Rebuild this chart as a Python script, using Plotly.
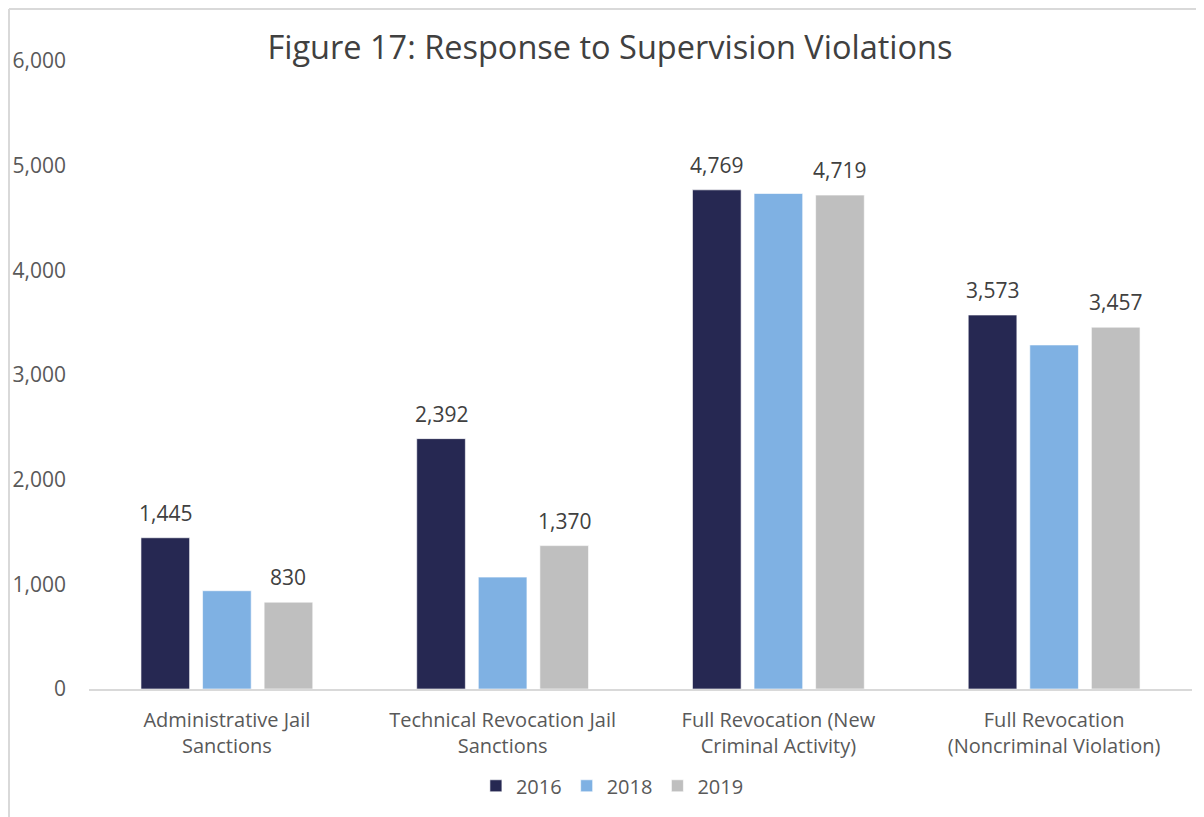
import plotly.graph_objects as go

# -----------------------------
# Data
# -----------------------------
categories = [
    "Administrative Jail<br>Sanctions",
    "Technical Revocation Jail<br>Sanctions",
    "Full Revocation (New<br>Criminal Activity)",
    "Full Revocation<br>(Noncriminal Violation)",
]
years = ["2016", "2018", "2019"]
values_2016 = [1445, 2392, 4769, 3573]
values_2018 = [939, 1069, 4734, 3287]
values_2019 = [830, 1370, 4719, 3457]
show_labels = [True, False, True]

colors = ["#262852", "#7FB1E3", "#BFBFBF"]
font_name = "Open Sans"

W, H = 1204, 817
margin = dict(l=81, r=20, t=53, b=136)
bargap = 0.33
plot_w = W - margin["l"] - margin["r"]
plot_h = H - margin["t"] - margin["b"]
slot = plot_w / len(categories) * (1 - bargap) / len(years)

fig = go.Figure()
for i, (year, vals, col) in enumerate(zip(years, [values_2016, values_2018, values_2019], colors)):
    fig.add_trace(go.Bar(
        name=year,
        x=categories,
        y=vals,
        marker=dict(color=col, line=dict(color="rgba(255,255,255,0.6)", width=1)),
    ))
    if show_labels[i]:
        for c, v in zip(categories, vals):
            fig.add_annotation(
                x=c, y=v, xref="x", yref="y",
                text=f"{v:,}", showarrow=False,
                xshift=(i - 1) * slot, yshift=9,
                yanchor="bottom",
                font=dict(size=21, color="#404040", family=font_name),
            )

# chart border (left and top only visible)
bx = (1 - margin["l"]) / plot_w
by = 1 + (margin["t"] - 1) / plot_h
fig.add_shape(type="line", xref="paper", yref="paper",
              x0=bx, x1=bx, y0=by, y1=-0.3,
              line=dict(color="#D9D9D9", width=2))
fig.add_shape(type="line", xref="paper", yref="paper",
              x0=bx, x1=1.05, y0=by, y1=by,
              line=dict(color="#D9D9D9", width=2))

fig.update_layout(
    width=W,
    height=H,
    margin=dict(**margin, autoexpand=False),
    paper_bgcolor="white",
    plot_bgcolor="white",
    font=dict(family=font_name, color="#595959", size=20),
    title=dict(
        text="Figure 17: Response to Supervision Violations",
        x=0.5, xanchor="center",
        y=0.951, yanchor="middle",
        font=dict(size=32.5, color="#404040", family=font_name),
    ),
    barmode="group",
    bargap=bargap,
    bargroupgap=0.21,
    showlegend=True,
    legend=dict(
        orientation="h",
        xref="container", yref="container",
        x=0.502, xanchor="center",
        y=0.048, yanchor="middle",
        font=dict(size=20, color="#595959"),
        itemwidth=30,
        traceorder="normal",
    ),
    yaxis=dict(
        range=[0, 6000],
        tickvals=[0, 1000, 2000, 3000, 4000, 5000, 6000],
        tickformat=",",
        showgrid=False,
        zeroline=False,
        showline=False,
        ticklabelstandoff=22,
        tickfont=dict(size=21, color="#595959"),
    ),
    xaxis=dict(
        showline=True,
        linecolor="#D9D9D9",
        linewidth=2,
        tickfont=dict(size=20, color="#595959"),
        ticklabelstandoff=12,
    ),
)

fig.write_html("out.html")
